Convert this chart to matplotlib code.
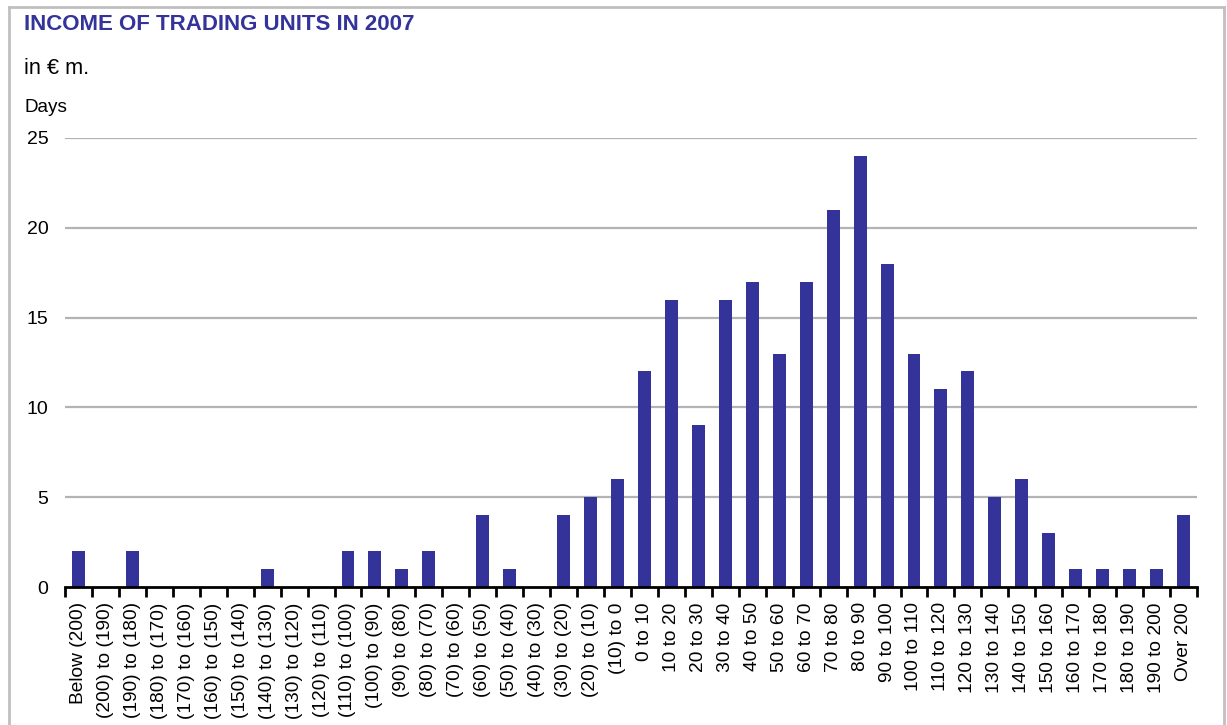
import numpy as np
import matplotlib
matplotlib.use('Agg')
import matplotlib.pyplot as plt
from matplotlib.lines import Line2D

plt.rcParams['font.family'] = ['Liberation Sans', 'DejaVu Sans']

# --- datos ---
categories = [
    'Below (200)', '(200) to (190)', '(190) to (180)', '(180) to (170)',
    '(170) to (160)', '(160) to (150)', '(150) to (140)', '(140) to (130)',
    '(130) to (120)', '(120) to (110)', '(110) to (100)', '(100) to (90)',
    '(90) to (80)', '(80) to (70)', '(70) to (60)', '(60) to (50)',
    '(50) to (40)', '(40) to (30)', '(30) to (20)', '(20) to (10)',
    '(10) to 0', '0 to 10', '10 to 20', '20 to 30', '30 to 40', '40 to 50',
    '50 to 60', '60 to 70', '70 to 80', '80 to 90', '90 to 100',
    '100 to 110', '110 to 120', '120 to 130', '130 to 140', '140 to 150',
    '150 to 160', '160 to 170', '170 to 180', '180 to 190', '190 to 200',
    'Over 200',
]
days = [2, 0, 2, 0, 0, 0, 0, 1, 0, 0, 2, 2, 1, 2, 0, 4, 1, 0, 4, 5,
        6, 12, 16, 9, 16, 17, 13, 17, 21, 24, 18, 13, 11, 12, 5, 6, 3,
        1, 1, 1, 1, 4]
y_ticks = [0, 5, 10, 15, 20, 25]

BAR_COLOR = '#343399'
GRID_COLOR = '#b3b3b3'
TITLE_COLOR = '#33339a'

fig = plt.figure(figsize=(12.27, 7.25), dpi=100)
ax = fig.add_axes([65 / 1227, 1 - 587 / 725, (1197 - 65) / 1227, (587 - 138) / 725])

x = np.arange(len(categories))
ax.bar(x, days, width=0.48, color=BAR_COLOR, zorder=3)

ax.set_xlim(-0.5, len(categories) - 0.5)
ax.set_ylim(0, 25)
ax.set_yticks(y_ticks)
ax.set_yticklabels([str(v) for v in y_ticks], fontsize=14)
ax.tick_params(axis='y', length=0, pad=12)

# etiquetas de categoria sin marca, marcas en los limites
ax.set_xticks(x)
ax.set_xticklabels(categories, rotation=90, fontsize=13.8)
ax.tick_params(axis='x', which='major', length=0, pad=11)
ax.set_xticks(np.arange(-0.5, len(categories)), minor=True)
ax.tick_params(axis='x', which='minor', length=7, width=2, direction='out', color='black')

for v in y_ticks[1:]:
    ax.axhline(v, color=GRID_COLOR, lw=1.6, zorder=1)

for s in ['top', 'right', 'left']:
    ax.spines[s].set_visible(False)
ax.spines['bottom'].set_linewidth(2)
ax.spines['bottom'].set_color('black')
ax.spines['bottom'].set_zorder(4)

# titulos
fig.text(24 / 1227, 1 - 25 / 725, 'INCOME OF TRADING UNITS IN 2007',
         color=TITLE_COLOR, fontsize=16, fontweight='bold', va='center', ha='left')
fig.text(24 / 1227, 1 - 69 / 725, 'in € m.', fontsize=15.7, va='center', ha='left')
fig.text(24 / 1227, 1 - 108 / 725, 'Days', fontsize=13.6, va='center', ha='left')

# marco gris
frame_kw = dict(color='#c0c0c0', lw=2, transform=fig.transFigure)
fig.add_artist(Line2D([9 / 1227, 1224 / 1227], [1 - 7 / 725, 1 - 7 / 725], **frame_kw))
fig.add_artist(Line2D([9 / 1227, 9 / 1227], [1 - 7 / 725, 0], **frame_kw))
fig.add_artist(Line2D([1224 / 1227, 1224 / 1227], [1 - 7 / 725, 0], **frame_kw))

fig.savefig('out.png', dpi=100)
